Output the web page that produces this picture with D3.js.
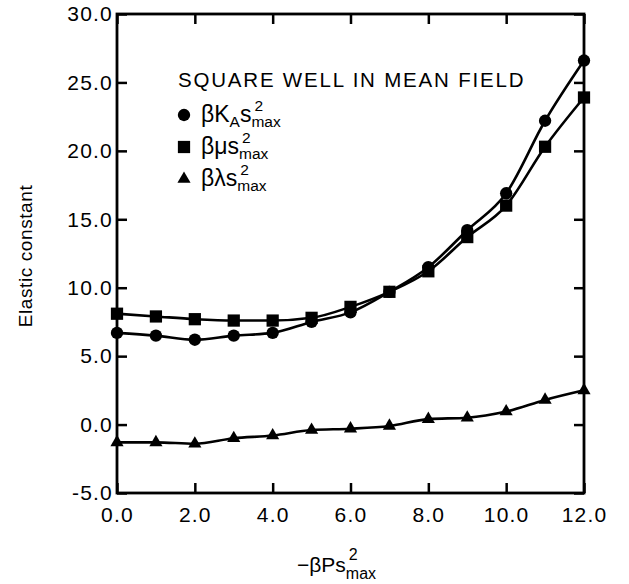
<!DOCTYPE html>
<html><head><meta charset="utf-8">
<script src="https://cdn.jsdelivr.net/npm/d3@7"></script>
<style>
body{margin:0;background:#fff;}
svg{display:block;}
text{font-family:"Liberation Sans",Arial,Helvetica,sans-serif;fill:#000;}
</style></head>
<body>
<script>
const xValues = [0,1,2,3,4,5,6,7,8,9,10,11,12];
const kaValues = [6.7,6.5,6.2,6.5,6.7,7.5,8.2,9.7,11.5,14.2,16.9,22.2,26.6];
const muValues = [8.1,7.9,7.7,7.6,7.6,7.8,8.6,9.7,11.2,13.7,16.0,20.3,23.9];
const lamValues = [-1.3,-1.3,-1.4,-1.0,-0.8,-0.4,-0.3,-0.1,0.4,0.5,0.95,1.8,2.5];
const xTicks = [0,2,4,6,8,10,12];
const yTicks = [-5,0,5,10,15,20,25,30];
const legendTitle = "SQUARE WELL IN MEAN FIELD";
const yTitle = "Elastic constant";

const W=629,H=584;
const m={l:117,r:584,t:14,b:493};
const svg=d3.select("body").append("svg").attr("width",W).attr("height",H);
const x=d3.scaleLinear().domain([0,12]).range([m.l,m.r]);
const y=d3.scaleLinear().domain([-5,30]).range([m.b,m.t]);
const fmt=d=>d.toFixed(1);
const TS=10;

function styleAxis(g){
  g.select(".domain").remove();
  g.selectAll(".tick line").attr("stroke","#000").attr("stroke-width",2.5);
  g.selectAll("text").style("font-size","21px").style("letter-spacing","1.2px").attr("fill","#000");
}
svg.append("g").attr("transform",`translate(0,${m.b})`)
  .call(d3.axisBottom(x).tickValues(xTicks).tickSizeInner(-TS).tickSizeOuter(0).tickPadding(14).tickFormat(fmt)).call(styleAxis);
svg.append("g").attr("transform",`translate(0,${m.t})`)
  .call(d3.axisTop(x).tickValues(xTicks).tickSizeInner(-TS).tickSizeOuter(0).tickFormat("")).call(styleAxis);
svg.append("g").attr("transform",`translate(${m.l},0)`)
  .call(d3.axisLeft(y).tickValues(yTicks).tickSizeInner(-TS).tickSizeOuter(0).tickPadding(4).tickFormat(fmt)).call(styleAxis);
svg.append("g").attr("transform",`translate(${m.r},0)`)
  .call(d3.axisRight(y).tickValues(yTicks).tickSizeInner(-TS).tickSizeOuter(0).tickFormat("")).call(styleAxis);
svg.append("rect").attr("x",m.l).attr("y",m.t).attr("width",m.r-m.l).attr("height",m.b-m.t)
  .attr("fill","none").attr("stroke","#000").attr("stroke-width",2.8);

const series=[
  {vals:kaValues,sym:d3.symbolCircle,size:120},
  {vals:muValues,sym:d3.symbolSquare,size:150},
  {vals:lamValues,sym:d3.symbolTriangle,size:75}
];
const line=d3.line().x((d,i)=>x(xValues[i])).y(d=>y(d)).curve(d3.curveMonotoneX);
series.forEach(s=>{
  svg.append("path").attr("d",line(s.vals)).attr("fill","none").attr("stroke","#000").attr("stroke-width",2.6);
  svg.append("g").selectAll("path").data(s.vals).join("path")
    .attr("transform",(d,i)=>`translate(${x(xValues[i])},${y(d)})`)
    .attr("d",d3.symbol().type(s.sym).size(s.size)).attr("fill","#000");
});

// rich text helper
function rich(x0,yb,parts,big,small){
  const g=svg.append("g");
  let cx=x0;
  parts.forEach(p=>{
    if(p.stack){
      let w=0;
      p.stack.forEach(q=>{
        const t=g.append("text").attr("x",cx+(q.dx||0)).attr("y",yb+q.dy).style("font-size",small+"px").text(q.t);
        w=Math.max(w,t.node().getComputedTextLength()+(q.dx||0));
      });
      cx+=w;
    } else {
      const t=g.append("text").attr("x",cx).attr("y",yb+(p.dy||0)).style("font-size",(p.sm?small:big)+"px").text(p.t);
      cx+=t.node().getComputedTextLength();
    }
  });
  return g;
}

// legend
svg.append("text").attr("x",178).attr("y",87).style("font-size","20.5px").style("letter-spacing","1.8px").text(legendTitle);
const legY=[115,147,179];
const legSyms=[[d3.symbolCircle,120],[d3.symbolSquare,150],[d3.symbolTriangle,75]];
legSyms.forEach((s,i)=>{
  svg.append("path").attr("transform",`translate(184,${legY[i]})`).attr("d",d3.symbol().type(s[0]).size(s[1])).attr("fill","#000");
});
const stack=[{t:"2",dy:-11,dx:3},{t:"max",dy:5}];
rich(201,legY[0]+7,[{t:"βK"},{t:"A",sm:true,dy:5},{t:"s"},{stack}],23,15.5);
rich(201,legY[1]+7,[{t:"βμs"},{stack}],23,15.5);
rich(201,legY[2]+7,[{t:"βλs"},{stack}],23,15.5);

// axis titles
rich(297,572,[{t:"−βPs"},{stack:[{t:"2",dy:-12,dx:3},{t:"max",dy:7}]}],21,16);
svg.append("text").attr("transform","translate(32,256) rotate(-90)").attr("text-anchor","middle")
  .style("font-size","19px").style("letter-spacing","0.6px").text(yTitle);
</script>
</body></html>
